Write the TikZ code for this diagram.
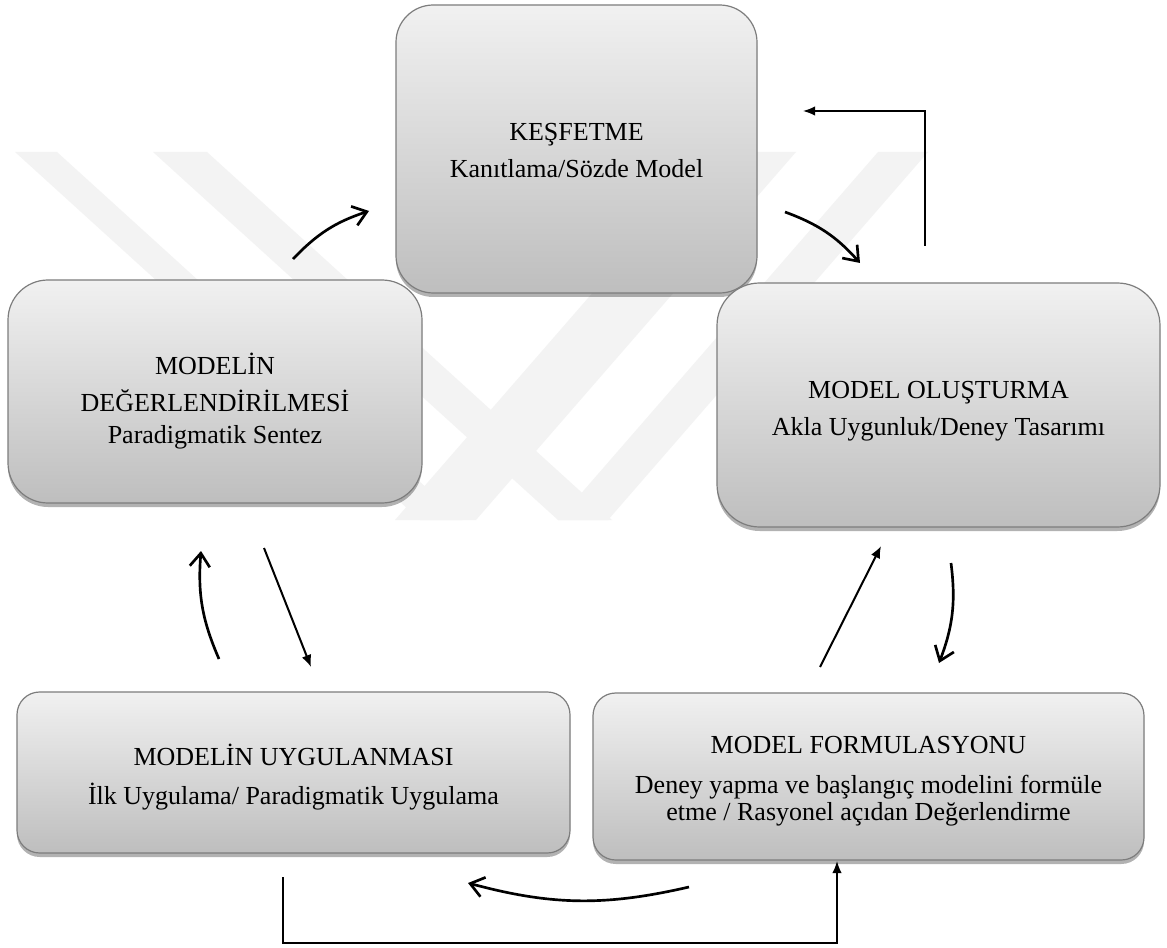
\documentclass[tikz,border=0pt]{standalone}
\usepackage{fontspec}
\setmainfont{Liberation Serif}
\usetikzlibrary{arrows.meta,shadows}
\definecolor{boxtop}{RGB}{241,241,241}
\definecolor{boxbot}{RGB}{190,190,190}
\definecolor{boxline}{RGB}{125,125,125}
\definecolor{wmark}{RGB}{243,243,243}
\begin{document}
\begin{tikzpicture}[x=0.75pt,y=-0.75pt,
  stage/.style={draw=boxline, line width=0.9pt, top color=boxtop, bottom color=boxbot,
    inner sep=0pt,
    drop shadow={shadow xshift=0pt, shadow yshift=-3pt, opacity=0.3, fill=black}},
  stagetext/.style={align=center, inner sep=0pt, font=\fontsize{19.5}{20}\selectfont},
  curv/.style={line width=2pt, -{Straight Barb[length=10pt,width=15pt]}, bend left=14},
  straightarrow/.style={line width=1.5pt, -{Latex[length=9pt,width=7.5pt]}},
  elbow/.style={line width=1.1pt, -{Latex[length=9pt,width=7pt]}},
  wm/.style={fill=wmark, draw=none}
]
\useasboundingbox (0,0) rectangle (1167,948);
\fill[white] (0,0) rectangle (1167,948);

% watermark
\fill[wm] (15,152) -- (57,152) -- (462,520) -- (420,520) -- cycle;
\fill[wm] (153,152) -- (207,152) -- (612,520) -- (558,520) -- cycle;
\fill[wm] (715,152) -- (796,152) -- (476,520) -- (395,520) -- cycle;
\fill[wm] (878,152) -- (928,152) -- (608,520) -- (558,520) -- cycle;

% boxes
\node[stage, minimum width=270.75pt, minimum height=216pt, rounded corners=28pt] (K) at (576.5,149) {};
\node[stage, minimum width=310.5pt, minimum height=167.25pt, rounded corners=30pt] (D) at (215,391.5) {};
\node[stage, minimum width=332.25pt, minimum height=183pt, rounded corners=32pt] (O) at (938.5,405) {};
\node[stage, minimum width=414.75pt, minimum height=120.75pt, rounded corners=17pt] (U) at (293.5,772.5) {};
\node[stage, minimum width=413.25pt, minimum height=125.25pt, rounded corners=17pt] (F) at (868.5,776.5) {};

% texts
\node[stagetext] (Kt) at ([yshift=-1.5pt]K.center) {KEŞFETME\\[7.75pt]Kanıtlama/Sözde Model};
\node[stagetext] (Dt) at ([yshift=-7.5pt]D.center) {MODELİN\\[7.5pt]DEĞERLENDİRİLMESİ\\[4.25pt]Paradigmatik Sentez};
\node[stagetext] (Ot) at ([yshift=-4.5pt]O.center) {MODEL OLUŞTURMA\\[7.75pt]Akla Uygunluk/Deney Tasarımı};
\node[stagetext] (Ut) at ([yshift=-3.75pt]U.center) {MODELİN UYGULANMASI\\[9.25pt]İlk Uygulama/ Paradigmatik Uygulama};
\node[stagetext] (Ft) at ([yshift=-3.75pt]F.center) {MODEL FORMULASYONU\\[10pt]Deney yapma ve başlangıç modelini formüle\\etme / Rasyonel açıdan Değerlendirme};

% connector ends
\coordinate (k2o-s) at (785,212);  \coordinate (k2o-e) at (860,263);
\coordinate (o2k-s) at (925,246);  \coordinate (o2k-e) at (803,111);
\coordinate (d2k-s) at (293,259);  \coordinate (d2k-e) at (369,211);
\coordinate (u2d-s) at (219,659);  \coordinate (u2d-e) at (201,551);
\coordinate (d2u-s) at (264,548);  \coordinate (d2u-e) at (311,667);
\coordinate (f2o-s) at (820,667);  \coordinate (f2o-e) at (881,546);
\coordinate (o2f-s) at (951,563);  \coordinate (o2f-e) at (939,663);
\coordinate (f2u-s) at (689,887);  \coordinate (f2u-e) at (468,883);
\coordinate (u2f-s) at (283,877);  \coordinate (u2f-e) at (837,861);

% connectors
\draw[curv] (k2o-s) to (k2o-e);
\draw[elbow] (o2k-s) |- (o2k-e);
\draw[curv] (d2k-s) to (d2k-e);
\draw[curv] (u2d-s) to (u2d-e);
\draw[straightarrow] (d2u-s) -- (d2u-e);
\draw[straightarrow] (f2o-s) -- (f2o-e);
\draw[curv] (o2f-s) to (o2f-e);
\draw[curv] (f2u-s) to (f2u-e);
\draw[elbow] (u2f-s) -- ++(0,66) -| (u2f-e);
\end{tikzpicture}
\end{document}
